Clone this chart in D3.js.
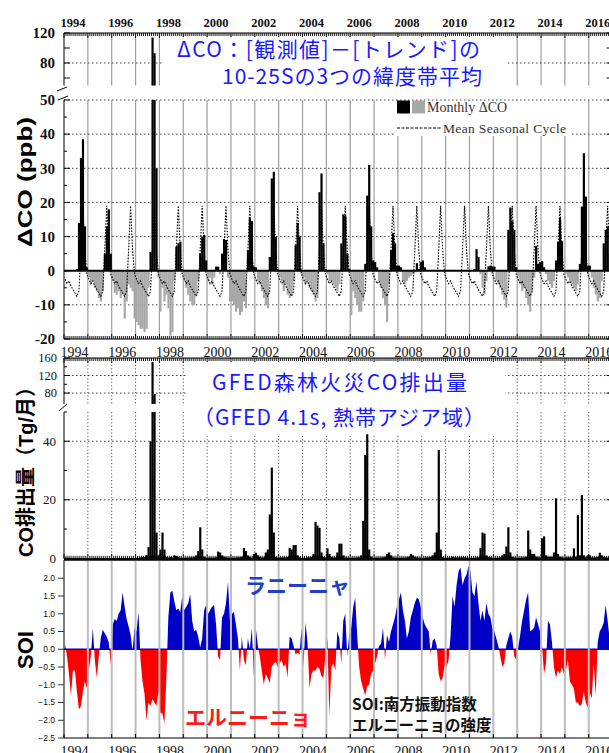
<!DOCTYPE html>
<html><head><meta charset="utf-8">
<script src="https://cdn.jsdelivr.net/npm/d3@7/dist/d3.min.js"></script>
<style>body{margin:0;background:#fff}svg{display:block}</style>
</head><body>
<svg id="chart" width="609" height="753"></svg>
<script>
// ---------------- DATA ----------------
const startYear = 1994;
const yearTicks = d3.range(1994, 2018);
const labelYears = [1994,1996,1998,2000,2002,2004,2006,2008,2010,2012,2014,2016];

// Mean seasonal cycle of ΔCO (ppb), Jan..Dec
const seasonalCycle = [-2.5,-3.8,-3.0,-4.5,-5.5,-6.5,-7.5,-6.0,6.0,19.0,6.0,-1.0];

// Monthly ΔCO (ppb), Jan 1994 .. Dec 2016
const dcoMonthly = [
 null,null,null,null,null,null,0.5,14,33,38.5,13,1,          // 1994
 -2,-4,-3,-5,-6,-8,-9,-6,5,13,18,5,                          // 1995
 -3,-6.5,-7,-6,-8,-7,-14,-9,-4,-5,-6,-14,                    // 1996
 -15,-16,-17,-17,-18,-17,-5,5.5,114,93,30,-2,                // 1997
 -12,-5,-9,-7,-11,-19,-18,-3,7,8,8.5,0.5,                    // 1998
 -3,-5,-7,-9,-10,-10,-7,-3,5,10,10.5,3,                      // 1999
 -3,-2,-4,-2,1.2,1.2,-1,5,9.3,9,-2,-9,                       // 2000
 -9,-10,-12,-11,-13,-12,-9,-11,6,15.5,14.5,1.2,              // 2001
 1,-3,-4,-6,-8,-10,-11,4,27,29,10,0.5,                       // 2002
 -2,-3,-6,-4,-7,-8,-7,-3,7.5,14,10,-1,                       // 2003
 -2,-4,-3,-5,-6,-7,-9,-8,23,28.5,8,0.5,                      // 2004
 -1,-3,-3,-4,-5,-6,-4,8,16.5,16,5,0.5,                       // 2005
 -13,-6,-8,-10,-12,-12,-9,2,22,31,13,3,                      // 2006
 2.5,1,-3,-5,-8,-10,-15,-4,6,11,8,1.5,                       // 2007
 1.5,1,-3,-4,-3,-2,-1.5,-1,-0.5,2.2,0.5,2.5,                 // 2008
 3,1,0,0,0,0,0,0,0,0,0,0,                                    // 2009
 0,0,0,0,0,0,0,0,0,0,0,0,                                    // 2010
 0,0,0.5,6.3,4,-1,-5,-7,-3,1.3,1.5,1.2,                      // 2011
 1.2,-3,-4,-5,-7,-8.5,-10.8,12,18.5,14.5,12,1,               // 2012
 -2,-4,-6,-5,-8,-10,-12,-6,-2,7.3,2,2.5,                     // 2013
 2.8,1,-1,-3,-4,-5,-3,3,8.5,15.5,8.6,0,                      // 2014
 -1,-2,-3,-4,-5,-6,-4,2,18.8,34.4,21.7,1.5,                  // 2015
 1.5,-2,-5,-7,-9,-8,-3,8,12,13,5,0                           // 2016
];

// GFED 4.1s fire CO emission, tropical Asia (Tg/month), Jan 1994 .. Dec 2016
const gfedMonthly = [
 null,null,null,null,null,null,null,null,null,null,null,null, // 1994
 null,null,null,null,null,null,null,null,null,null,null,null, // 1995
 null,null,null,null,null,null,null,null,null,null,null,null, // 1996
 0.2,0.2,0.3,0.5,0.5,1.1,3.8,40,151,78,8.8,1,                // 1997
 3,8.8,3,0.5,0.3,0.5,0.3,1,0.8,0.5,0.2,0.2,                   // 1998
 0.2,0.2,0.2,0.3,0.3,0.5,1,2.5,10.6,3,0.5,0.2,                // 1999
 0.2,0.2,0.2,0.2,0.3,2.3,2,1,0.5,0.3,0.2,0.2,                 // 2000
 0.2,0.2,0.2,0.3,0.3,0.5,3.5,2.5,1,0.5,0.2,1.5,               // 2001
 1.9,1,0.5,0.3,0.3,2,3,15,31,8.8,0.5,0.2,                     // 2002
 0.3,0.3,0.3,0.3,0.5,3.5,3,4.5,4.5,1,0.3,0.2,                 // 2003
 0.2,0.2,0.3,0.3,0.5,1.5,12.5,11.2,10.4,2,0.5,0.3,            // 2004
 3.4,1.5,0.5,0.3,0.3,2,5,5,1,0.3,0.2,0.2,                     // 2005
 0.2,0.2,0.2,0.3,0.3,1,12.8,35.3,42.4,3,0.5,0.2,              // 2006
 0.2,0.2,0.2,0.2,0.3,0.5,1.5,2,1,0.3,0.2,0.2,                 // 2007
 0.2,0.2,0.2,0.2,0.3,0.5,1.5,1,0.5,0.3,0.2,0.2,               // 2008
 0.2,0.2,0.3,0.3,0.5,1,2,8.8,37,3,0.5,0.2,                    // 2009
 0.2,0.2,0.2,0.5,0.3,0.3,0.3,0.3,0.3,0.3,0.2,0.2,             // 2010
 0.2,0.2,0.2,0.3,0.3,3.5,8.8,8.5,1,0.5,0.3,0.2,               // 2011
 0.2,0.2,0.2,0.3,1,1.5,4,10.6,2,0.5,0.3,0.2,                  // 2012
 0.2,0.2,0.3,0.3,0.5,9.5,3,1.5,1.5,0.5,0.3,0.3,               // 2013
 6.8,7.5,1,0.5,0.5,0.5,2,20.5,1.5,0.5,0.3,0.2,                // 2014
 0.3,0.3,0.3,0.3,3.4,0.5,14.8,1,21.6,1,0.3,1,                 // 2015
 1,0.3,0.3,0.3,0.5,1.9,1,0.5,0.3,0.2,0.2,0.2                  // 2016
];

// Southern Oscillation Index (monthly), Jan 1994 .. Dec 2016
const soiMonthly = [
 0.15,-0.2,-0.7,-1.3,-0.6,-0.6,-1.2,-1.7,-1.6,-1.2,-0.9,-1.1,        // 1994
 -0.6,-0.2,0.6,-0.3,-0.8,-0.2,0.3,0.55,0.45,0.35,0.2,-0.45,          // 1995
 0.7,0.85,0.8,1.0,1.1,1.6,1.2,0.85,0.65,0.4,-0.05,0.6,               // 1996
 0.5,1.05,-0.3,-0.9,-1.25,-2.0,-1.5,-1.6,-1.4,-1.5,-1.6,-1.2,        // 1997
 -1.8,-1.8,-2.1,-0.8,0.9,1.6,1.65,1.35,1.1,1.15,1.05,1.5,            // 1998
 1.1,1.2,1.3,1.55,0.8,0.5,0.55,0.35,0.05,0.3,1.1,1.25,               // 1999
 1.0,1.1,1.2,1.25,0.7,-0.2,-0.3,0.9,1.0,1.3,1.9,0.8,                 // 2000
 1.0,1.05,0.7,0.3,-0.6,0.35,-0.3,-0.45,0.3,0.0,0.6,-0.8,             // 2001
 0.6,0.1,-0.2,-0.6,-1.0,-0.7,-0.8,-0.95,-0.5,-0.4,-0.35,-0.5,        // 2002
 -0.4,-0.3,-0.5,-0.4,-0.8,0.35,0.3,0.1,-0.15,-0.1,-0.15,0.6,         // 2003
 -0.5,0.75,0.2,-1.1,-0.7,-0.6,-0.6,-0.5,-0.55,-0.75,-0.8,-0.2,       // 2004
 0.3,-1.9,-0.5,-0.4,-0.6,0.5,0.3,-0.4,0.8,1.0,-0.2,0.4,              // 2005
 0.6,1.2,1.45,0.4,-0.5,-0.9,-1.1,-1.3,-1.05,-1.0,-0.7,-0.6,          // 2006
 -0.4,-0.2,0.1,0.15,0.6,-0.3,0.4,0.2,0.5,0.7,0.9,1.2,                // 2007
 1.4,1.6,1.1,0.8,0.3,0.5,0.9,1.1,1.3,1.45,1.4,1.2,                   // 2008
 0.9,0.7,0.6,0.5,-0.15,0.25,0.3,0.1,-0.7,-0.9,-0.8,-0.45,            // 2009
 -0.5,-0.3,0.4,1.5,1.2,1.8,2.2,2.3,1.8,2.0,2.1,2.35,                 // 2010
 2.2,1.6,1.5,1.9,1.3,0.8,1.1,0.8,1.3,1.0,0.9,0.6,                    // 2011
 0.5,0.3,0.1,-0.2,-0.5,-0.4,0.1,0.3,0.5,0.35,-0.2,-0.3,              // 2012
 0.05,0.4,0.8,1.1,1.4,1.6,0.5,0.55,0.6,0.9,0.7,0.5,                  // 2013
 0.1,-0.7,-0.4,0.8,0.7,0.2,-0.5,-0.8,-0.6,-0.7,-0.5,-0.7,            // 2014
 -0.6,-0.3,-0.9,-1.0,-1.1,-1.5,-1.5,-1.6,-1.55,-1.2,-1.5,-1.65,      // 2015
 -1.2,-1.4,-0.4,-1.3,0.2,0.5,0.6,0.75,1.25,0.8,0.3,0.2               // 2016
];

const dcoTicksLower = [-20,-10,0,10,20,30,40,50];
const dcoTicksUpper = [80,120];
const gfedTicksLower = [0,20,40];
const gfedTicksUpper = [80,120,160];
const soiTicks = [-2.5,-2.0,-1.5,-1.0,-0.5,0.0,0.5,1.0,1.5,2.0];

// ---------------- DRAW ----------------
const svg = d3.select('#chart');
const SERIF = "'Liberation Serif','Times New Roman',serif";
const SANS = "'Liberation Sans',Arial,sans-serif";
const JP = "'Noto Sans CJK JP','Noto Sans',sans-serif";

const x = d3.scaleLinear().domain([1994, 2017]).range([64, 612.6]);
const X0 = x.range()[0], X1 = x.range()[1];
const mW = x(1994 + 1/12) - x(1994);
const tOf = i => startYear + i / 12;
const allMonths = d3.range(0, 23 * 12 + 1).map(tOf);
const isYear = t => Math.abs(t - Math.round(t)) < 1e-6;
const innerYears = yearTicks.filter(y => y > 1994 && y < 2017);

function vGrid(g, y1, y2, stroke, w, dash) {
  g.append('g').selectAll('line').data(innerYears).join('line')
    .attr('x1', d => x(d)).attr('x2', d => x(d)).attr('y1', y1).attr('y2', y2)
    .attr('stroke', stroke).attr('stroke-width', w).attr('stroke-dasharray', dash || null);
}
function hGrid(g, scale, vals, stroke, dash) {
  g.append('g').selectAll('line').data(vals).join('line')
    .attr('x1', X0).attr('x2', X1).attr('y1', d => scale(d)).attr('y2', d => scale(d))
    .attr('stroke', stroke).attr('stroke-width', 1).attr('stroke-dasharray', dash);
}
function xTicks(g, y, dir, minorLen, majorLen) {
  g.append('line').attr('x1', X0).attr('x2', X1).attr('y1', y).attr('y2', y).attr('stroke', '#000').attr('stroke-width', 1.2);
  g.append('g').selectAll('line').data(allMonths).join('line')
    .attr('x1', d => x(d)).attr('x2', d => x(d)).attr('y1', y)
    .attr('y2', d => y + dir * (isYear(d) ? majorLen : minorLen))
    .attr('stroke', '#000').attr('stroke-width', 0.9);
}
function yTicks(g, scale, vals, len) {
  g.append('g').selectAll('line').data(vals).join('line')
    .attr('x1', X0).attr('x2', X0 + len).attr('y1', d => scale(d)).attr('y2', d => scale(d))
    .attr('stroke', '#000').attr('stroke-width', 1);
  g.append('g').selectAll('line').data(vals).join('line')
    .attr('x1', X1).attr('x2', X1 - len).attr('y1', d => scale(d)).attr('y2', d => scale(d))
    .attr('stroke', '#000').attr('stroke-width', 1);
}
function yLabels(g, scale, vals, xr, font, size, weight, fmt) {
  g.append('g').selectAll('text').data(vals).join('text')
    .attr('x', xr).attr('y', d => scale(d)).attr('dy', '0.35em')
    .attr('text-anchor', 'end').attr('font-family', font).attr('font-size', size)
    .attr('font-weight', weight).attr('fill', '#111').text(d => fmt ? fmt(d) : d);
}
function yearLabels(g, yBase, size, weight) {
  g.append('g').selectAll('text').data(labelYears).join('text')
    .attr('x', d => x(d) - 3.5).attr('y', yBase)
    .attr('font-family', SERIF).attr('font-size', size).attr('font-weight', weight)
    .attr('fill', '#111').text(d => d);
}

// ===== Panel 1 : ΔCO =====
const y1u = d3.scaleLinear().domain([50, 120]).range([85.5, 33]);
const y1l = d3.scaleLinear().domain([-20, 50]).range([339, 100]);
const g1 = svg.append('g');
vGrid(g1, y1u.range()[1], y1u.range()[0], '#9e9e9e', 1.2);
vGrid(g1, y1l.range()[1], y1l.range()[0], '#9e9e9e', 1.2);
hGrid(g1, y1l, [-10, 10, 20, 30, 40, 50], '#444', '1.5,2.5');
hGrid(g1, y1u, [80], '#444', '1.5,2.5');

const dcoData = dcoMonthly.map((v, i) => ({ t: tOf(i), v })).filter(d => d.v != null);
g1.append('g').selectAll('rect').data(dcoData.filter(d => d.v < 0)).join('rect')
  .attr('x', d => x(d.t)).attr('width', mW + 0.2)
  .attr('y', y1l(0)).attr('height', d => y1l(Math.max(d.v, -20)) - y1l(0))
  .attr('fill', '#a8a8a8');
g1.append('g').selectAll('rect').data(dcoData.filter(d => d.v > 0)).join('rect')
  .attr('x', d => x(d.t)).attr('width', mW + 0.2)
  .attr('y', d => y1l(Math.min(d.v, 50))).attr('height', d => y1l(0) - y1l(Math.min(d.v, 50)))
  .attr('fill', '#000');
g1.append('g').selectAll('rect').data(dcoData.filter(d => d.v > 50)).join('rect')
  .attr('x', d => x(d.t)).attr('width', mW + 0.2)
  .attr('y', d => y1u(d.v)).attr('height', d => y1u(50) - y1u(d.v))
  .attr('fill', '#000');

const cycData = d3.range(0, 23 * 12).map(i => ({ t: tOf(i) + 0.5 / 12, v: seasonalCycle[i % 12] }));
g1.append('path').datum(cycData)
  .attr('d', d3.line().x(d => x(d.t)).y(d => y1l(d.v)))
  .attr('fill', 'none').attr('stroke', '#000').attr('stroke-width', 1.1).attr('stroke-dasharray', '1.6,1.4');

g1.append('line').attr('x1', X0).attr('x2', X1).attr('y1', y1l(0)).attr('y2', y1l(0)).attr('stroke', '#000').attr('stroke-width', 2);
g1.append('line').attr('x1', X0).attr('x2', X0).attr('y1', 33).attr('y2', 85.5).attr('stroke', '#000');
g1.append('line').attr('x1', X0).attr('x2', X0).attr('y1', 100).attr('y2', 339).attr('stroke', '#000');
xTicks(g1, 33, 1, 3, 5);
xTicks(g1, 339, -1, 3, 5);
yTicks(g1, y1u, [60, 80, 100, 120], 6);
yTicks(g1, y1l, dcoTicksLower, 6);
yTicks(g1, y1l, [-15, -5, 5, 15, 25, 35, 45], 3);
g1.append('line').attr('x1', 57).attr('y1', 91).attr('x2', 67).attr('y2', 87).attr('stroke', '#000');
g1.append('line').attr('x1', 58).attr('y1', 100).attr('x2', 68).attr('y2', 96).attr('stroke', '#000');

yLabels(g1, y1u, dcoTicksUpper, 55, SERIF, 15, 'bold');
yLabels(g1, y1l, dcoTicksLower, 55, SERIF, 15, 'bold');
yearLabels(g1, 27, 12.5, 'bold');

g1.append('rect').attr('x', 162).attr('y', 37).attr('width', 346).attr('height', 49).attr('fill', '#fff');
g1.append('text').attr('x', 177).attr('y', 56.5).attr('textLength', 303).attr('lengthAdjust', 'spacing')
  .attr('font-family', JP).attr('font-size', 21).attr('fill', '#1a1aff').text('ΔCO：[観測値]－[トレンド]の');
g1.append('text').attr('x', 222).attr('y', 84).attr('textLength', 260).attr('lengthAdjust', 'spacing')
  .attr('font-family', JP).attr('font-size', 21).attr('fill', '#1a1aff').text('10-25Sの3つの緯度帯平均');

g1.append('rect').attr('x', 395).attr('y', 101).attr('width', 176).attr('height', 35).attr('fill', '#fff');
g1.append('rect').attr('x', 397).attr('y', 100.5).attr('width', 13).attr('height', 13).attr('fill', '#000');
g1.append('rect').attr('x', 412).attr('y', 100.5).attr('width', 13).attr('height', 13).attr('fill', '#a8a8a8');
g1.append('text').attr('x', 427).attr('y', 111.5).attr('font-family', SERIF).attr('font-size', 14).attr('fill', '#333').text('Monthly ΔCO');
g1.append('line').attr('x1', 397).attr('x2', 441).attr('y1', 128).attr('y2', 128).attr('stroke', '#000').attr('stroke-dasharray', '3,1.5');
g1.append('text').attr('x', 443).attr('y', 132.5).attr('textLength', 123).attr('font-family', SERIF).attr('font-size', 13.5).attr('fill', '#333').text('Mean Seasonal Cycle');

svg.append('text').attr('transform', 'translate(25,182) rotate(-90)').attr('text-anchor', 'middle').attr('dy', '0.35em')
  .attr('textLength', 130).attr('lengthAdjust', 'spacingAndGlyphs')
  .attr('font-family', SANS).attr('font-weight', 'bold').attr('font-size', 21).attr('fill', '#000').text('ΔCO (ppb)');

// ===== Panel 2 : GFED CO emission =====
const y2u = d3.scaleLinear().domain([55, 160]).range([404, 358]);
const y2l = d3.scaleLinear().domain([0, 50]).range([558.3, 412]);
const g2 = svg.append('g');
vGrid(g2, 358, 404, '#555', 1, '1.2,2.2');
vGrid(g2, 412, 558, '#555', 1, '1.2,2.2');
hGrid(g2, y2l, [20, 40], '#444', '1.5,2.5');
hGrid(g2, y2u, [80, 120], '#444', '1.5,2.5');

const gfData = gfedMonthly.map((v, i) => ({ t: tOf(i), v })).filter(d => d.v != null);
g2.append('g').selectAll('rect').data(gfData).join('rect')
  .attr('x', d => x(d.t)).attr('width', mW + 0.2)
  .attr('y', d => y2l(Math.min(d.v, 50))).attr('height', d => y2l(0) - y2l(Math.min(d.v, 50)))
  .attr('fill', '#000');
g2.append('g').selectAll('rect').data(gfData.filter(d => d.v > 55)).join('rect')
  .attr('x', d => x(d.t)).attr('width', mW + 0.2)
  .attr('y', d => y2u(d.v)).attr('height', d => y2u(55) - y2u(d.v))
  .attr('fill', '#000');

g2.append('line').attr('x1', X0).attr('x2', X0).attr('y1', 358).attr('y2', 404).attr('stroke', '#000');
g2.append('line').attr('x1', X0).attr('x2', X0).attr('y1', 412).attr('y2', 558.3).attr('stroke', '#000');
xTicks(g2, 358, 1, 3, 5);
xTicks(g2, 558.8, -1, 3, 5);
g2.append('line').attr('x1', X0).attr('x2', X1).attr('y1', 559.5).attr('y2', 559.5).attr('stroke', '#000').attr('stroke-width', 2.5);
yTicks(g2, y2u, [80, 120, 160], 6);
yTicks(g2, y2u, [100, 140], 3);
yTicks(g2, y2l, [0, 20, 40], 6);
yTicks(g2, y2l, [10, 30, 50], 3);
g2.append('line').attr('x1', 59).attr('y1', 411).attr('x2', 67).attr('y2', 404).attr('stroke', '#000');

yLabels(g2, y2u, gfedTicksUpper, 57, SERIF, 12.5, 'normal');
yLabels(g2, y2l, gfedTicksLower, 56, SERIF, 13, 'normal');
yearLabels(g2, 356.5, 14, 'normal');

g2.append('rect').attr('x', 187).attr('y', 362).attr('width', 318).attr('height', 72).attr('fill', '#fff');
g2.append('text').attr('x', 212).attr('y', 389.5).attr('textLength', 255).attr('lengthAdjust', 'spacing')
  .attr('font-family', JP).attr('font-size', 21).attr('fill', '#1a1aff').text('GFED森林火災CO排出量');
g2.append('text').attr('x', 193).attr('y', 424.5).attr('textLength', 292).attr('lengthAdjust', 'spacing')
  .attr('font-family', JP).attr('font-size', 21).attr('fill', '#1a1aff').text('（GFED 4.1s, 熱帯アジア域）');

svg.append('text').attr('transform', 'translate(26,467) rotate(-90)').attr('text-anchor', 'middle').attr('dy', '0.35em')
  .attr('textLength', 180).attr('lengthAdjust', 'spacingAndGlyphs')
  .attr('font-family', SANS + ',' + JP).attr('font-weight', 'bold').attr('font-size', 20).attr('fill', '#000').text('CO排出量（Tg/月）');

// ===== Panel 3 : SOI =====
const y3 = d3.scaleLinear().domain([-2.5, 2.5]).range([738, 560.5]);
const g3 = svg.append('g');
const defs = svg.append('defs');
defs.append('clipPath').attr('id', 'clipPos').append('rect')
  .attr('x', X0).attr('y', y3(2.5)).attr('width', X1 - X0).attr('height', y3(0) - y3(2.5));
defs.append('clipPath').attr('id', 'clipNeg').append('rect')
  .attr('x', X0).attr('y', y3(0)).attr('width', X1 - X0).attr('height', y3(-2.5) - y3(0));

const soiData = soiMonthly.map((v, i) => ({ t: tOf(i) + 0.5 / 12, v }));
const soiArea = d3.area().x(d => x(d.t)).y0(y3(0)).y1(d => y3(d.v));
g3.append('path').datum(soiData).attr('d', soiArea).attr('fill', '#0000c8').attr('clip-path', 'url(#clipPos)');
g3.append('path').datum(soiData).attr('d', soiArea).attr('fill', '#ff0000').attr('clip-path', 'url(#clipNeg)');
g3.append('line').attr('x1', X0).attr('x2', X1).attr('y1', y3(0)).attr('y2', y3(0)).attr('stroke', '#0000c8').attr('stroke-width', 1.5);
vGrid(g3, 561, 738, '#bdbdbd', 2);

g3.append('line').attr('x1', X0).attr('x2', X0).attr('y1', 560).attr('y2', 738).attr('stroke', '#000');
g3.append('line').attr('x1', X0).attr('x2', X1).attr('y1', 738).attr('y2', 738).attr('stroke', '#000');
g3.append('g').selectAll('line').data(yearTicks).join('line')
  .attr('x1', d => x(d)).attr('x2', d => x(d)).attr('y1', 738).attr('y2', 734).attr('stroke', '#000');
g3.append('g').selectAll('line').data(soiTicks).join('line')
  .attr('x1', X0 - 6).attr('x2', X0).attr('y1', d => y3(d)).attr('y2', d => y3(d)).attr('stroke', '#333');
yLabels(g3, y3, soiTicks, 55, SANS, 8.5, 'normal', d3.format('.1f'));
yearLabels(g3, 756, 14, 'normal');

g3.append('text').attr('x', 245).attr('y', 593).attr('font-family', JP).attr('font-weight', 'bold')
  .attr('font-size', 21).attr('fill', '#2040cc').text('ラニーニャ');
g3.append('text').attr('x', 185).attr('y', 725).attr('font-family', JP).attr('font-weight', 'bold')
  .attr('font-size', 21).attr('fill', '#ff1a1a').text('エルニーニョ');
g3.append('text').attr('x', 352).attr('y', 710).attr('font-family', JP).attr('font-weight', 'bold')
  .attr('font-size', 15.5).attr('fill', '#111').text('SOI:南方振動指数');
g3.append('text').attr('x', 352).attr('y', 731).attr('font-family', JP).attr('font-weight', 'bold')
  .attr('font-size', 15.5).attr('fill', '#111').text('エルニーニョの強度');

svg.append('text').attr('transform', 'translate(25,650) rotate(-90)').attr('text-anchor', 'middle').attr('dy', '0.35em')
  .attr('font-family', SANS).attr('font-weight', 'bold').attr('font-size', 22).attr('fill', '#000').text('SOI');
</script>
</body></html>
